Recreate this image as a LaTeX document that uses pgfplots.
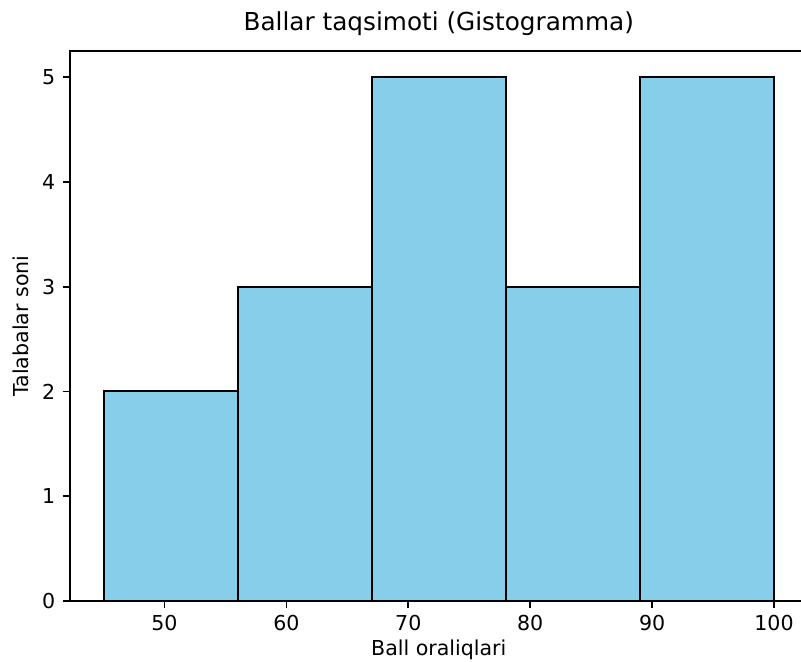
\documentclass[border=0pt]{standalone}
\usepackage{fontspec}
\setmainfont{DejaVu Sans}
\usepackage{pgfplots}
\pgfplotsset{compat=1.18}
\definecolor{skyblue}{HTML}{87CEEB}
\begin{document}
\begin{tikzpicture}
\begin{axis}[
  at={(0,0)}, anchor=south west,
  scale only axis, width=531pt, height=396pt,
  xmin=42.25, xmax=102.75, ymin=0, ymax=5.25,
  enlargelimits=false,
  xtick={50,60,70,80,90,100}, ytick={0,1,2,3,4,5},
  tick align=outside, xtick pos=lower, ytick pos=left,
  major tick length=5.2pt,
  tick style={line width=1.2pt, black},
  axis line style={line width=1.2pt, black},
  /pgf/number format/assume math mode=true,
  ticklabel style={font=\fontsize{14.8}{17}\selectfont, text=black},
  xticklabel style={anchor=north, inner sep=0pt, yshift=-5.2pt},
  yticklabel style={anchor=east, inner sep=0pt, xshift=-5.2pt},
  title={Ballar taqsimoti (Gistogramma)},
  title style={font=\fontsize{17.8}{21}\selectfont, at={(axis description cs:0.5,1.0225)}, anchor=base, inner sep=0pt},
  xlabel={Ball oraliqlari},
  ylabel={Talabalar soni},
  label style={font=\fontsize{14.8}{17}\selectfont},
  xlabel style={at={(axis description cs:0.5,-0.0997)}, anchor=base, inner sep=0pt},
  ylabel style={at={(axis description cs:-0.0565,0.5)}, anchor=base, inner sep=0pt},
]
\addplot[ybar interval, fill=skyblue, draw=black, line width=1.45pt] coordinates {
  (45,2) (56,3) (67,5) (78,3) (89,5) (100,5)
};
\end{axis}
\pgfresetboundingbox
\useasboundingbox (-50.4pt,-43.9pt) rectangle (526.3pt,432.7pt);
\end{tikzpicture}
\end{document}
